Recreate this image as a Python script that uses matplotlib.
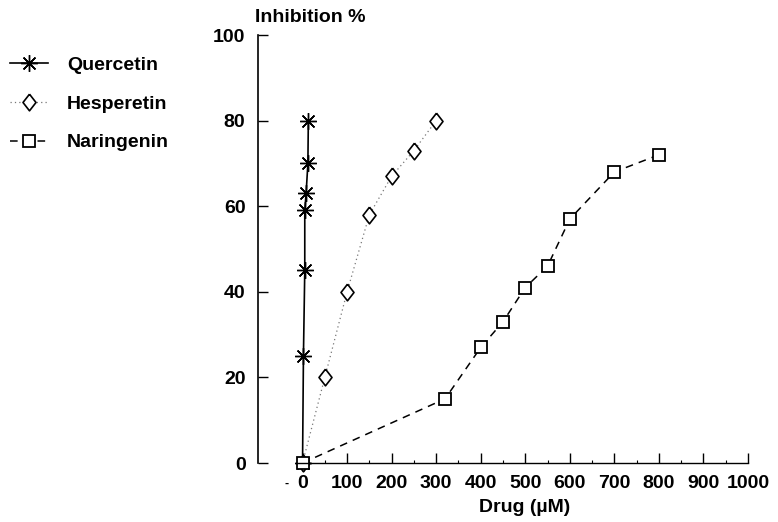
import matplotlib
matplotlib.use("Agg")
import matplotlib.pyplot as plt
from matplotlib.ticker import FixedLocator

plt.rcParams['font.family'] = ['Liberation Sans', 'DejaVu Sans']
plt.rcParams['font.weight'] = 'bold'

quer_x = [0, 2, 5, 5, 8, 12, 13]
quer_y = [0, 25, 45, 59, 63, 70, 80]
hesp_x = [0, 50, 100, 150, 200, 250, 300]
hesp_y = [0, 20, 40, 58, 67, 73, 80]
nar_x = [0, 320, 400, 450, 500, 550, 600, 700, 800]
nar_y = [0, 15, 27, 33, 41, 46, 57, 68, 72]
xticks = [0, 100, 200, 300, 400, 500, 600, 700, 800, 900, 1000]
yticks = [0, 20, 40, 60, 80, 100]

FS = 14
fig = plt.figure(figsize=(7.78, 5.22), dpi=100)
ax = fig.add_axes([258/778, 59/522, 490/778, 428/522])

diamond = [(0, 1), (0.78, 0), (0, -1), (-0.78, 0), (0, 1)]
l1, = ax.plot(quer_x, quer_y, color='black', lw=1.2, marker=(8, 2, 0), ms=12,
              mew=1.0, clip_on=False, label='Quercetin')
l2, = ax.plot(hesp_x, hesp_y, color='#777777', lw=0.9, ls=(0, (1, 2.5)), marker=diamond, ms=12,
              mfc='white', mec='black', mew=1.2, clip_on=False, label='Hesperetin')
l3, = ax.plot(nar_x, nar_y, color='black', lw=1.1, ls=(0, (5, 4)), marker='s', ms=8.5,
              mfc='white', mec='black', mew=1.3, clip_on=False, label='Naringenin')

ax.set_xlim(-100, 1000)
ax.set_ylim(0, 100)
ax.set_xticks(xticks)
ax.set_yticks(yticks)
ax.xaxis.set_minor_locator(FixedLocator(list(range(50, 1000, 100))))
ax.tick_params(axis='both', which='major', direction='in', length=7, width=1,
               labelsize=FS)
ax.tick_params(axis='x', which='major', pad=9)
ax.tick_params(axis='y', which='major', pad=9)
ax.tick_params(axis='x', which='minor', direction='in', length=2, width=0.8)
for lab in ax.get_xticklabels() + ax.get_yticklabels():
    lab.set_fontweight('bold')
ax.spines['top'].set_visible(False)
ax.spines['right'].set_visible(False)
ax.spines['bottom'].set_bounds(-12, 1000)
ax.spines['left'].set_linewidth(1.2)
ax.spines['bottom'].set_linewidth(1.0)

ax.set_xlabel('Drug (\u00b5M)', fontsize=FS, fontweight='bold')
ax.xaxis.set_label_coords((525 - 258) / 490, -(508 - 463) / 428)
ax.xaxis.label.set_va('center')
fig.text(255/778, 1 - 18/522, 'Inhibition %', fontsize=FS, fontweight='bold',
         ha='left', va='center')
fig.text(287/778, 1 - 484/522, '-', fontsize=9, ha='center', va='center')

fig.legend(handles=[l1, l2, l3], loc='upper left', bbox_to_anchor=(-0.010, 0.925),
           frameon=False, handlelength=1.95, handletextpad=1.0,
           labelspacing=1.08, prop={'weight': 'bold', 'size': FS})

fig.savefig('out.png', dpi=100)
